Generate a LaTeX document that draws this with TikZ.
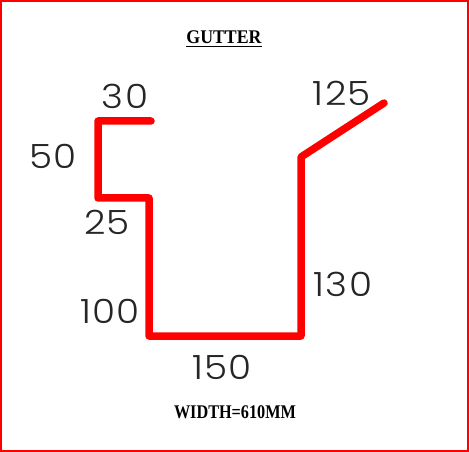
\documentclass[tikz,border=0pt]{standalone}
\usepackage{fontspec}
\setmainfont{Liberation Serif}
\newfontfamily\dimfont{Poppins}[UprightFont={* Light},LetterSpace=4,FakeStretch=1.12]
\tikzset{
	dimlabel/.style={font=\dimfont\fontsize{19}{19}\selectfont, text=black!85, inner sep=0pt},
	titlelabel/.style={font=\bfseries\fontsize{11}{11}\selectfont, inner sep=0pt},
	sheet/.style={red, line width=0.15cm, line join=round, line cap=round}
}
\begin{document}
\begin{tikzpicture}[x=0.02cm, y=-0.02cm]
	\useasboundingbox (0,0) rectangle (469,452);
	\draw[red, line width=0.045cm] (1,1) rectangle (468,451);
	% gutter profile
	\draw[sheet] (151,121) -- (98,121) -- (98,198) -- (149,198) -- (149,336) -- (301,336) -- (301,157) -- (384,103);
	% bend lengths
	\node[dimlabel] (top) at (125,96) {30};
	\node[dimlabel] (lip) at (53,156) {50};
	\node[dimlabel] (step) at (107,222) {25};
	\node[dimlabel] (left) at (110,311) {100};
	\node[dimlabel] (base) at (222,367) {150};
	\node[dimlabel] (right) at (343,284) {130};
	\node[dimlabel] (flange) at (342,93) {125};
	% titles
	\node[titlelabel] (title) at (224,39) {\scalebox{0.92}[1]{\underline{GUTTER}}};
	\node[titlelabel] (width) at (235,412) {\scalebox{0.84}[1]{WIDTH=610MM}};
\end{tikzpicture}
\end{document}
